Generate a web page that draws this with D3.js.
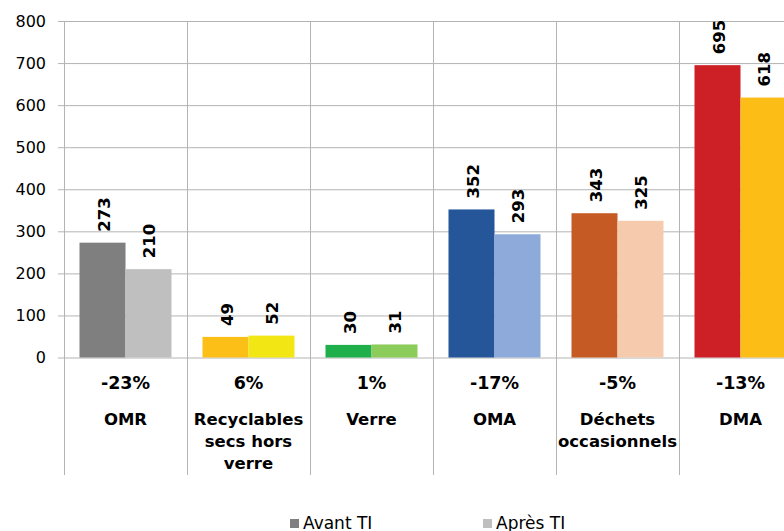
<!DOCTYPE html>
<html>
<head>
<meta charset="utf-8">
<script src="https://cdn.jsdelivr.net/npm/d3@7"></script>
<style>
  body { margin: 0; background: #fff; }
  svg { display: block; font-family: "DejaVu Sans", Verdana, sans-serif; }
</style>
</head>
<body>
<svg id="chart" width="784" height="531"></svg>
<script>
var width = 784
var height = 531

// categories and the lines they wrap onto
var categories = ["OMR", "Recyclables secs hors verre", "Verre", "OMA", "Déchets occasionnels", "DMA"]
var categoryLines = [["OMR"], ["Recyclables", "secs hors", "verre"], ["Verre"], ["OMA"], ["Déchets", "occasionnels"], ["DMA"]]
var avant = [273, 49, 30, 352, 343, 695]
var apres = [210, 52, 31, 293, 325, 618]
var evolution = ["-23%", "6%", "1%", "-17%", "-5%", "-13%"]
var colorsAvant = ["#7f7f7f", "#fbbf18", "#1faf4b", "#25569a", "#c55a24", "#cc1f26"]
var colorsApres = ["#bfbfbf", "#f2e714", "#8ccc5a", "#8eaadb", "#f6cbad", "#fbbd16"]
var yTicks = [0, 100, 200, 300, 400, 500, 600, 700, 800]
var series = ["Avant TI", "Après TI"]

var plotLeft = 64, plotTop = 21, plotBottom = 357.5, tableBottom = 475
var step = 123

const svg = d3.select("svg#chart")

const x = d3.scaleBand()
    .domain(categories)
    .range([plotLeft, plotLeft + step * categories.length])
    .padding(0)

const xs = d3.scaleBand()
    .domain(series)
    .range([0, x.bandwidth()])
    .paddingInner(0)
    .paddingOuter(0.337)

const y = d3.scaleLinear()
    .domain([0, 800])
    .range([plotBottom, plotTop])

// horizontal grid + y axis
const yAxis = svg.append("g")
    .attr("transform", `translate(${plotLeft},0)`)
    .call(d3.axisLeft(y).tickValues(yTicks).tickSize(6).tickPadding(12).tickFormat(d3.format("d")))
yAxis.select(".domain").remove()
yAxis.selectAll(".tick line")
    .attr("x2", x.range()[1] - plotLeft)
    .attr("x1", -6)
    .attr("stroke", "#b4b4b4")
yAxis.selectAll(".tick text")
    .attr("font-size", 16)
    .attr("fill", "#000")
    .attr("font-family", "DejaVu Sans, Verdana, sans-serif")

// vertical separators, down through the table
svg.append("g")
    .attr("stroke", "#b4b4b4")
  .selectAll("line")
  .data(categories)
  .enter().append("line")
    .attr("x1", d => x(d) + 0.5)
    .attr("x2", d => x(d) + 0.5)
    .attr("y1", plotTop)
    .attr("y2", tableBottom)

const rows = categories.map((c, i) => ({
  cat: c, i: i,
  values: [{s: series[0], v: avant[i], color: colorsAvant[i]}, {s: series[1], v: apres[i], color: colorsApres[i]}]
}))

const group = svg.append("g")
  .selectAll("g")
  .data(rows)
  .enter().append("g")
    .attr("transform", d => `translate(${x(d.cat)},0)`)

group.selectAll("rect")
  .data(d => d.values)
  .enter().append("rect")
    .attr("x", d => xs(d.s))
    .attr("width", xs.bandwidth())
    .attr("y", d => y(d.v))
    .attr("height", d => y(0) - y(d.v))
    .attr("fill", d => d.color)

group.selectAll("text.val")
  .data(d => d.values)
  .enter().append("text")
    .attr("class", "val")
    .attr("transform", d => `translate(${xs(d.s) + xs.bandwidth() / 2 + 7},${y(d.v) - 11}) rotate(-90)`)
    .attr("font-size", 16.5)
    .attr("font-weight", "bold")
    .attr("text-anchor", "start")
    .text(d => d.v)

group.append("text")
    .attr("x", step / 2)
    .attr("y", 389)
    .attr("text-anchor", "middle")
    .attr("font-size", 17.5)
    .attr("font-weight", "bold")
    .text(d => evolution[d.i])

group.each(function(d) {
  const t = d3.select(this).append("text")
      .attr("text-anchor", "middle")
      .attr("font-size", 16.5)
      .attr("font-weight", "bold")
  categoryLines[d.i].forEach((line, k) => {
    t.append("tspan")
        .attr("x", step / 2)
        .attr("y", 425 + k * 22)
        .text(line)
  })
})

// legend
const legendX = [290, 483]
const legend = svg.append("g")
  .selectAll("g")
  .data(series)
  .enter().append("g")
    .attr("transform", (d, i) => `translate(${legendX[i]},519)`)
legend.append("rect")
    .attr("width", 9)
    .attr("height", 9)
    .attr("fill", (d, i) => i == 0 ? colorsAvant[0] : colorsApres[0])
legend.append("text")
    .attr("x", 13)
    .attr("y", 10)
    .attr("font-size", 17)
    .text(d => d)
</script>
</body>
</html>
